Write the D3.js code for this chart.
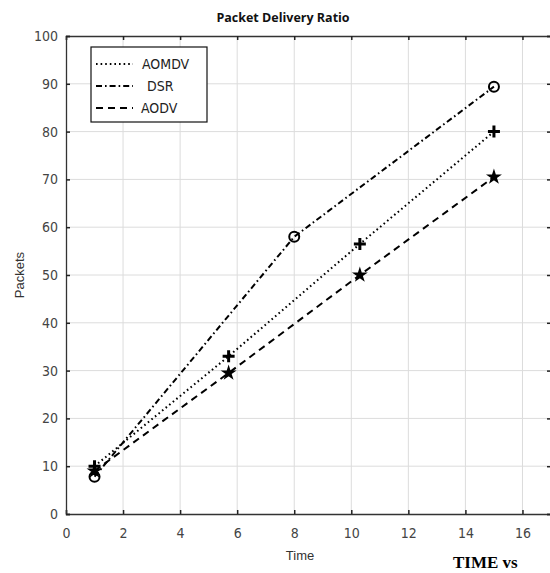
<!DOCTYPE html>
<html><head><meta charset="utf-8">
<script src="https://cdn.jsdelivr.net/npm/d3@7"></script>
<style>body{margin:0;background:#fff;} svg{display:block;}</style>
</head><body>
<script>
const xTicks = [0,2,4,6,8,10,12,14,16];
const yTicks = [0,10,20,30,40,50,60,70,80,90,100];
const seriesNames = ["AOMDV","DSR","AODV"];
const aomdvX = [1, 5.7, 10.3, 15];
const aomdvY = [10, 33, 56.5, 80];
const dsrX = [1, 8, 15];
const dsrY = [7.8, 58, 89.4];
const aodvX = [1, 5.7, 10.3, 15];
const aodvY = [9, 29.5, 50, 70.5];

const W = 550, H = 573;
const L = 66, R = 551, T = 36, B = 514;
const svg = d3.select("body").append("svg").attr("width", W).attr("height", H);
const x = d3.scaleLinear().domain([0,17]).range([L,R]);
const y = d3.scaleLinear().domain([0,100]).range([B,T]);

// grid
svg.append("g").selectAll("line").data(xTicks.filter(d=>d>0)).join("line")
  .attr("x1",d=>x(d)).attr("x2",d=>x(d)).attr("y1",T).attr("y2",B)
  .attr("stroke","#dcdcdc").attr("stroke-width",1);
svg.append("g").selectAll("line").data(yTicks.filter(d=>d>0&&d<100)).join("line")
  .attr("x1",L).attr("x2",R).attr("y1",d=>y(d)).attr("y2",d=>y(d))
  .attr("stroke","#dcdcdc").attr("stroke-width",1);

// axes (inward ticks)
const axB = d3.axisBottom(x).tickValues(xTicks).tickSize(-4).tickPadding(14);
const axT = d3.axisTop(x).tickValues(xTicks).tickSize(-4).tickFormat("");
const axL = d3.axisLeft(y).tickValues(yTicks).tickSize(-4).tickPadding(8);
const axR = d3.axisRight(y).tickValues(yTicks).tickSize(-4).tickFormat("");
function style(g){
  g.select(".domain").attr("stroke","#333").attr("stroke-width",1.3);
  g.selectAll(".tick line").attr("stroke","#222").attr("stroke-width",1.5);
  g.selectAll(".tick text").attr("fill","#444").style("font-family","'Liberation Sans Narrow','DejaVu Sans Condensed',Arial,sans-serif").style("font-size","14px");
}
svg.append("g").attr("transform",`translate(0,${B})`).call(axB).call(style);
svg.append("g").attr("transform",`translate(0,${T})`).call(axT).call(style);
svg.append("g").attr("transform",`translate(${L},0)`).call(axL).call(style);
svg.append("g").attr("transform",`translate(${R},0)`).call(axR).call(style);

// lines
const line = d3.line().x(d=>x(d[0])).y(d=>y(d[1]));
const series = [
  {name:seriesNames[0], pts:d3.zip(aomdvX,aomdvY), dash:"1.6,3", marker:"plus"},
  {name:seriesNames[1], pts:d3.zip(dsrX,dsrY), dash:"6,3,1.6,3", marker:"circle"},
  {name:seriesNames[2], pts:d3.zip(aodvX,aodvY), dash:"7,5", marker:"star"}
];
series.forEach(s=>{
  svg.append("path").datum(s.pts).attr("d",line).attr("fill","none")
    .attr("stroke","#000").attr("stroke-width",2).attr("stroke-dasharray",s.dash);
});
series.forEach(s=>{
  const g = svg.append("g");
  s.pts.forEach(p=>{
    const cx = x(p[0]), cy = y(p[1]);
    if(s.marker==="circle"){
      g.append("circle").attr("cx",cx).attr("cy",cy).attr("r",5)
        .attr("fill","none").attr("stroke","#000").attr("stroke-width",2);
    } else if(s.marker==="plus"){
      g.append("path").attr("d",`M${cx-6},${cy}H${cx+6}M${cx},${cy-6}V${cy+6}`)
        .attr("stroke","#000").attr("stroke-width",3).attr("fill","none");
    } else {
      g.append("path").attr("d",d3.symbol().type(d3.symbolStar).size(40)())
        .attr("transform",`translate(${cx},${cy})`)
        .attr("fill","#000").attr("stroke","#000").attr("stroke-width",1.5);
    }
  });
});

// legend
const lg = svg.append("g");
lg.append("rect").attr("x",91).attr("y",47).attr("width",116).attr("height",75)
  .attr("fill","#fff").attr("stroke","#111").attr("stroke-width",1.2);
const legY = [64, 86, 108];
const legTX = [142, 147, 141];
series.forEach((s,i)=>{
  lg.append("line").attr("x1",96).attr("x2",133).attr("y1",legY[i]).attr("y2",legY[i])
    .attr("stroke","#000").attr("stroke-width",1.8).attr("stroke-dasharray",s.dash);
  lg.append("text").attr("x",legTX[i]).attr("y",legY[i]+5).text(s.name)
    .style("font-family","'Liberation Sans Narrow','DejaVu Sans Condensed',Arial,sans-serif")
    .style("font-size","14px").attr("fill","#222");
});

// titles
svg.append("text").attr("x",283).attr("y",22).attr("text-anchor","middle")
  .text("Packet Delivery Ratio").style("font-family","'Open Sans',sans-serif")
  .style("font-weight","bold").style("font-size","12.5px").attr("fill","#111");
svg.append("text").attr("x",300).attr("y",560).attr("text-anchor","middle")
  .text("Time").style("font-family","'Liberation Sans Narrow',Arial,sans-serif")
  .style("font-size","13px").attr("fill","#333");
svg.append("text").attr("transform","translate(24,275) rotate(-90)").attr("text-anchor","middle")
  .text("Packets").style("font-family","'Liberation Sans Narrow',Arial,sans-serif")
  .style("font-size","13px").attr("fill","#333");
svg.append("text").attr("x",453).attr("y",568)
  .text("TIME vs").style("font-family","'Liberation Serif','Times New Roman',serif")
  .style("font-weight","bold").style("font-size","17px").attr("fill","#000");
</script>
</body></html>
